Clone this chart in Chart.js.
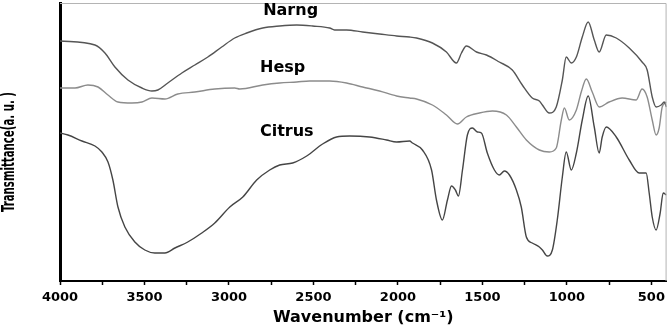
<!DOCTYPE html>
<html>
<head>
<meta charset="utf-8">
<script src="https://cdn.jsdelivr.net/npm/chart.js@4/dist/chart.umd.min.js"></script>
<style>
  html, body { margin: 0; padding: 0; background: #fff; }
  #wrap { width: 670px; height: 327px; }
</style>
</head>
<body>
<div id="wrap"><canvas id="ftir" width="670" height="327"></canvas></div>
<script>
// wavenumber (cm-1) and transmittance (a.u., offset curves)
const narngWn = [4000, 3793, 3734, 3675, 3598, 3515, 3456, 3421, 3362, 3279, 3202, 3125, 3043, 2966, 2895, 2800, 2700, 2599, 2505, 2404, 2375, 2304, 2209, 2109, 2008, 1931, 1890, 1796, 1713, 1654, 1624, 1595, 1535, 1476, 1400, 1323, 1264, 1205, 1163, 1145, 1104, 1063, 1027, 1004, 974, 944, 909, 874, 838, 809, 767, 708, 631, 555, 525, 495, 472, 442, 424, 411]
const narngT  = [241, 237, 229, 215, 202, 194, 191, 192, 199, 209, 217, 225, 235, 244, 249, 254, 256, 257, 256, 254, 252, 252, 250, 248, 246, 245, 244, 239, 230, 219, 229, 236, 230, 227, 220, 212, 197, 184, 181, 177, 169, 175, 202, 225, 219, 225, 245, 260, 242, 230, 247, 244, 234, 220, 212, 185, 175, 177, 180, 175]

const hespWn = [4000, 3911, 3835, 3775, 3716, 3657, 3574, 3515, 3456, 3379, 3303, 3202, 3084, 2966, 2936, 2800, 2700, 2599, 2523, 2404, 2304, 2209, 2109, 2008, 1931, 1890, 1796, 1713, 1648, 1595, 1518, 1441, 1358, 1299, 1240, 1163, 1104, 1063, 1033, 1015, 986, 944, 915, 885, 850, 809, 750, 673, 590, 555, 525, 495, 472, 454, 436, 412]
const hespT  = [194, 194, 197, 195, 187, 180, 179, 180, 184, 183, 188, 190, 193, 194, 193, 197, 199, 200, 201, 201, 199, 195, 191, 186, 184, 183, 177, 167, 158, 165, 169, 171, 167, 155, 142, 132, 130, 134, 162, 174, 162, 172, 190, 203, 190, 175, 180, 184, 182, 193, 185, 162, 147, 154, 175, 180]

const citrusWn = [4000, 3953, 3870, 3793, 3752, 3716, 3687, 3657, 3616, 3557, 3498, 3439, 3379, 3320, 3244, 3161, 3084, 2995, 2918, 2836, 2759, 2700, 2623, 2540, 2446, 2363, 2286, 2168, 2067, 2008, 1931, 1914, 1855, 1801, 1772, 1737, 1707, 1683, 1660, 1642, 1618, 1589, 1559, 1530, 1506, 1471, 1429, 1400, 1370, 1340, 1299, 1270, 1240, 1205, 1163, 1145, 1116, 1086, 1057, 1027, 1004, 974, 944, 909, 874, 838, 809, 791, 767, 708, 631, 572, 531, 513, 495, 472, 448, 430, 411]
const citrusT  = [149, 147, 141, 136, 130, 120, 102, 75, 55, 40, 32, 29, 29, 34, 40, 49, 59, 75, 85, 102, 112, 117, 119, 126, 138, 145, 146, 145, 142, 140, 141, 139, 132, 112, 82, 62, 82, 96, 92, 86, 112, 147, 154, 150, 149, 129, 112, 107, 111, 107, 92, 75, 45, 39, 35, 32, 26, 32, 62, 105, 130, 112, 129, 162, 186, 155, 129, 145, 155, 145, 122, 109, 109, 89, 65, 52, 69, 89, 87]

const seriesNames = ['Narng', 'Hesp', 'Citrus']
const seriesColors = ['#555555', '#8c8c8c', '#454545']
// where each curve's name sits (wavenumber, transmittance)
const nameWn = [2635, 2682, 2658]
const nameT = [271, 214, 150]

const xTickValues = [4000, 3750, 3500, 3250, 3000, 2750, 2500, 2250, 2000, 1750, 1500, 1250, 1000, 750, 500]
const yTitle = 'Transmittance(a. u. )'

const toPoints = (wn, t) => wn.map((w, i) => ({x: w, y: t[i]}))

const decorations = {
  id: 'decorations',
  afterDatasetsDraw(chart) {
    const {ctx, scales: {x, y}, chartArea} = chart
    ctx.save()
    // thin frame on top and right
    ctx.strokeStyle = '#b4b4b4'
    ctx.lineWidth = 1
    ctx.beginPath()
    ctx.moveTo(chartArea.left, chartArea.top + 0.5)
    ctx.lineTo(chartArea.right - 0.5, chartArea.top + 0.5)
    ctx.lineTo(chartArea.right - 0.5, chartArea.bottom)
    ctx.stroke()

    ctx.fillStyle = '#000'
    ctx.font = 'bold 16px "DejaVu Sans"'
    ctx.textAlign = 'center'
    ctx.textBaseline = 'middle'
    seriesNames.forEach((name, i) => {
      ctx.fillText(name, x.getPixelForValue(nameWn[i]), y.getPixelForValue(nameT[i]))
    })

    // narrow, tall y title like the original
    ctx.font = 'bold 17px "DejaVu Sans Condensed", "DejaVu Sans"'
    const w = ctx.measureText(yTitle).width
    ctx.translate(10, 152)
    ctx.rotate(-Math.PI / 2)
    ctx.scale(120 / w, 1)
    ctx.fillText(yTitle, 0, 0)
    ctx.restore()
  }
}

const config = {
  type: 'line',
  data: {
    datasets: [
      {label: seriesNames[0], data: toPoints(narngWn, narngT), borderColor: seriesColors[0]},
      {label: seriesNames[1], data: toPoints(hespWn, hespT), borderColor: seriesColors[1]},
      {label: seriesNames[2], data: toPoints(citrusWn, citrusT), borderColor: seriesColors[2]}
    ]
  },
  options: {
    responsive: false,
    animation: false,
    layout: { padding: { top: 3, right: 2, left: 0, bottom: 0 } },
    datasets: {
      line: {
        borderWidth: 1.4,
        pointRadius: 0,
        cubicInterpolationMode: 'monotone',
        fill: false
      }
    },
    plugins: {
      legend: { display: false },
      tooltip: { enabled: false }
    },
    scales: {
      x: {
        type: 'linear',
        reverse: true,
        min: 410,
        max: 4000,
        afterBuildTicks: (scale) => {
          scale.ticks = xTickValues.map((v) => ({value: v}))
        },
        afterFit: (scale) => { scale.height = 46 },
        border: { display: true, color: '#000', width: 2 },
        grid: { drawOnChartArea: false, drawTicks: true, tickLength: 4, tickWidth: 1.5, tickColor: '#000' },
        ticks: {
          color: '#000',
          padding: 5,
          maxRotation: 0,
          autoSkip: false,
          font: { family: '"DejaVu Sans"', size: 13, weight: 'bold' },
          callback: (v) => (v % 500 === 0 ? String(v) : '')
        },
        title: {
          display: true,
          text: 'Wavenumber (cm\u207B\u00B9)',
          color: '#000',
          padding: { top: 0, bottom: 0 },
          font: { family: '"DejaVu Sans"', size: 16, weight: 'bold' }
        }
      },
      y: {
        min: 1,
        max: 279,
        afterFit: (scale) => { scale.width = 60 },
        border: { display: true, color: '#000', width: 3 },
        grid: { display: false },
        ticks: { display: false },
        title: { display: false, text: yTitle }
      }
    }
  },
  plugins: [decorations]
}

new Chart(document.getElementById('ftir'), config)
</script>
</body>
</html>
